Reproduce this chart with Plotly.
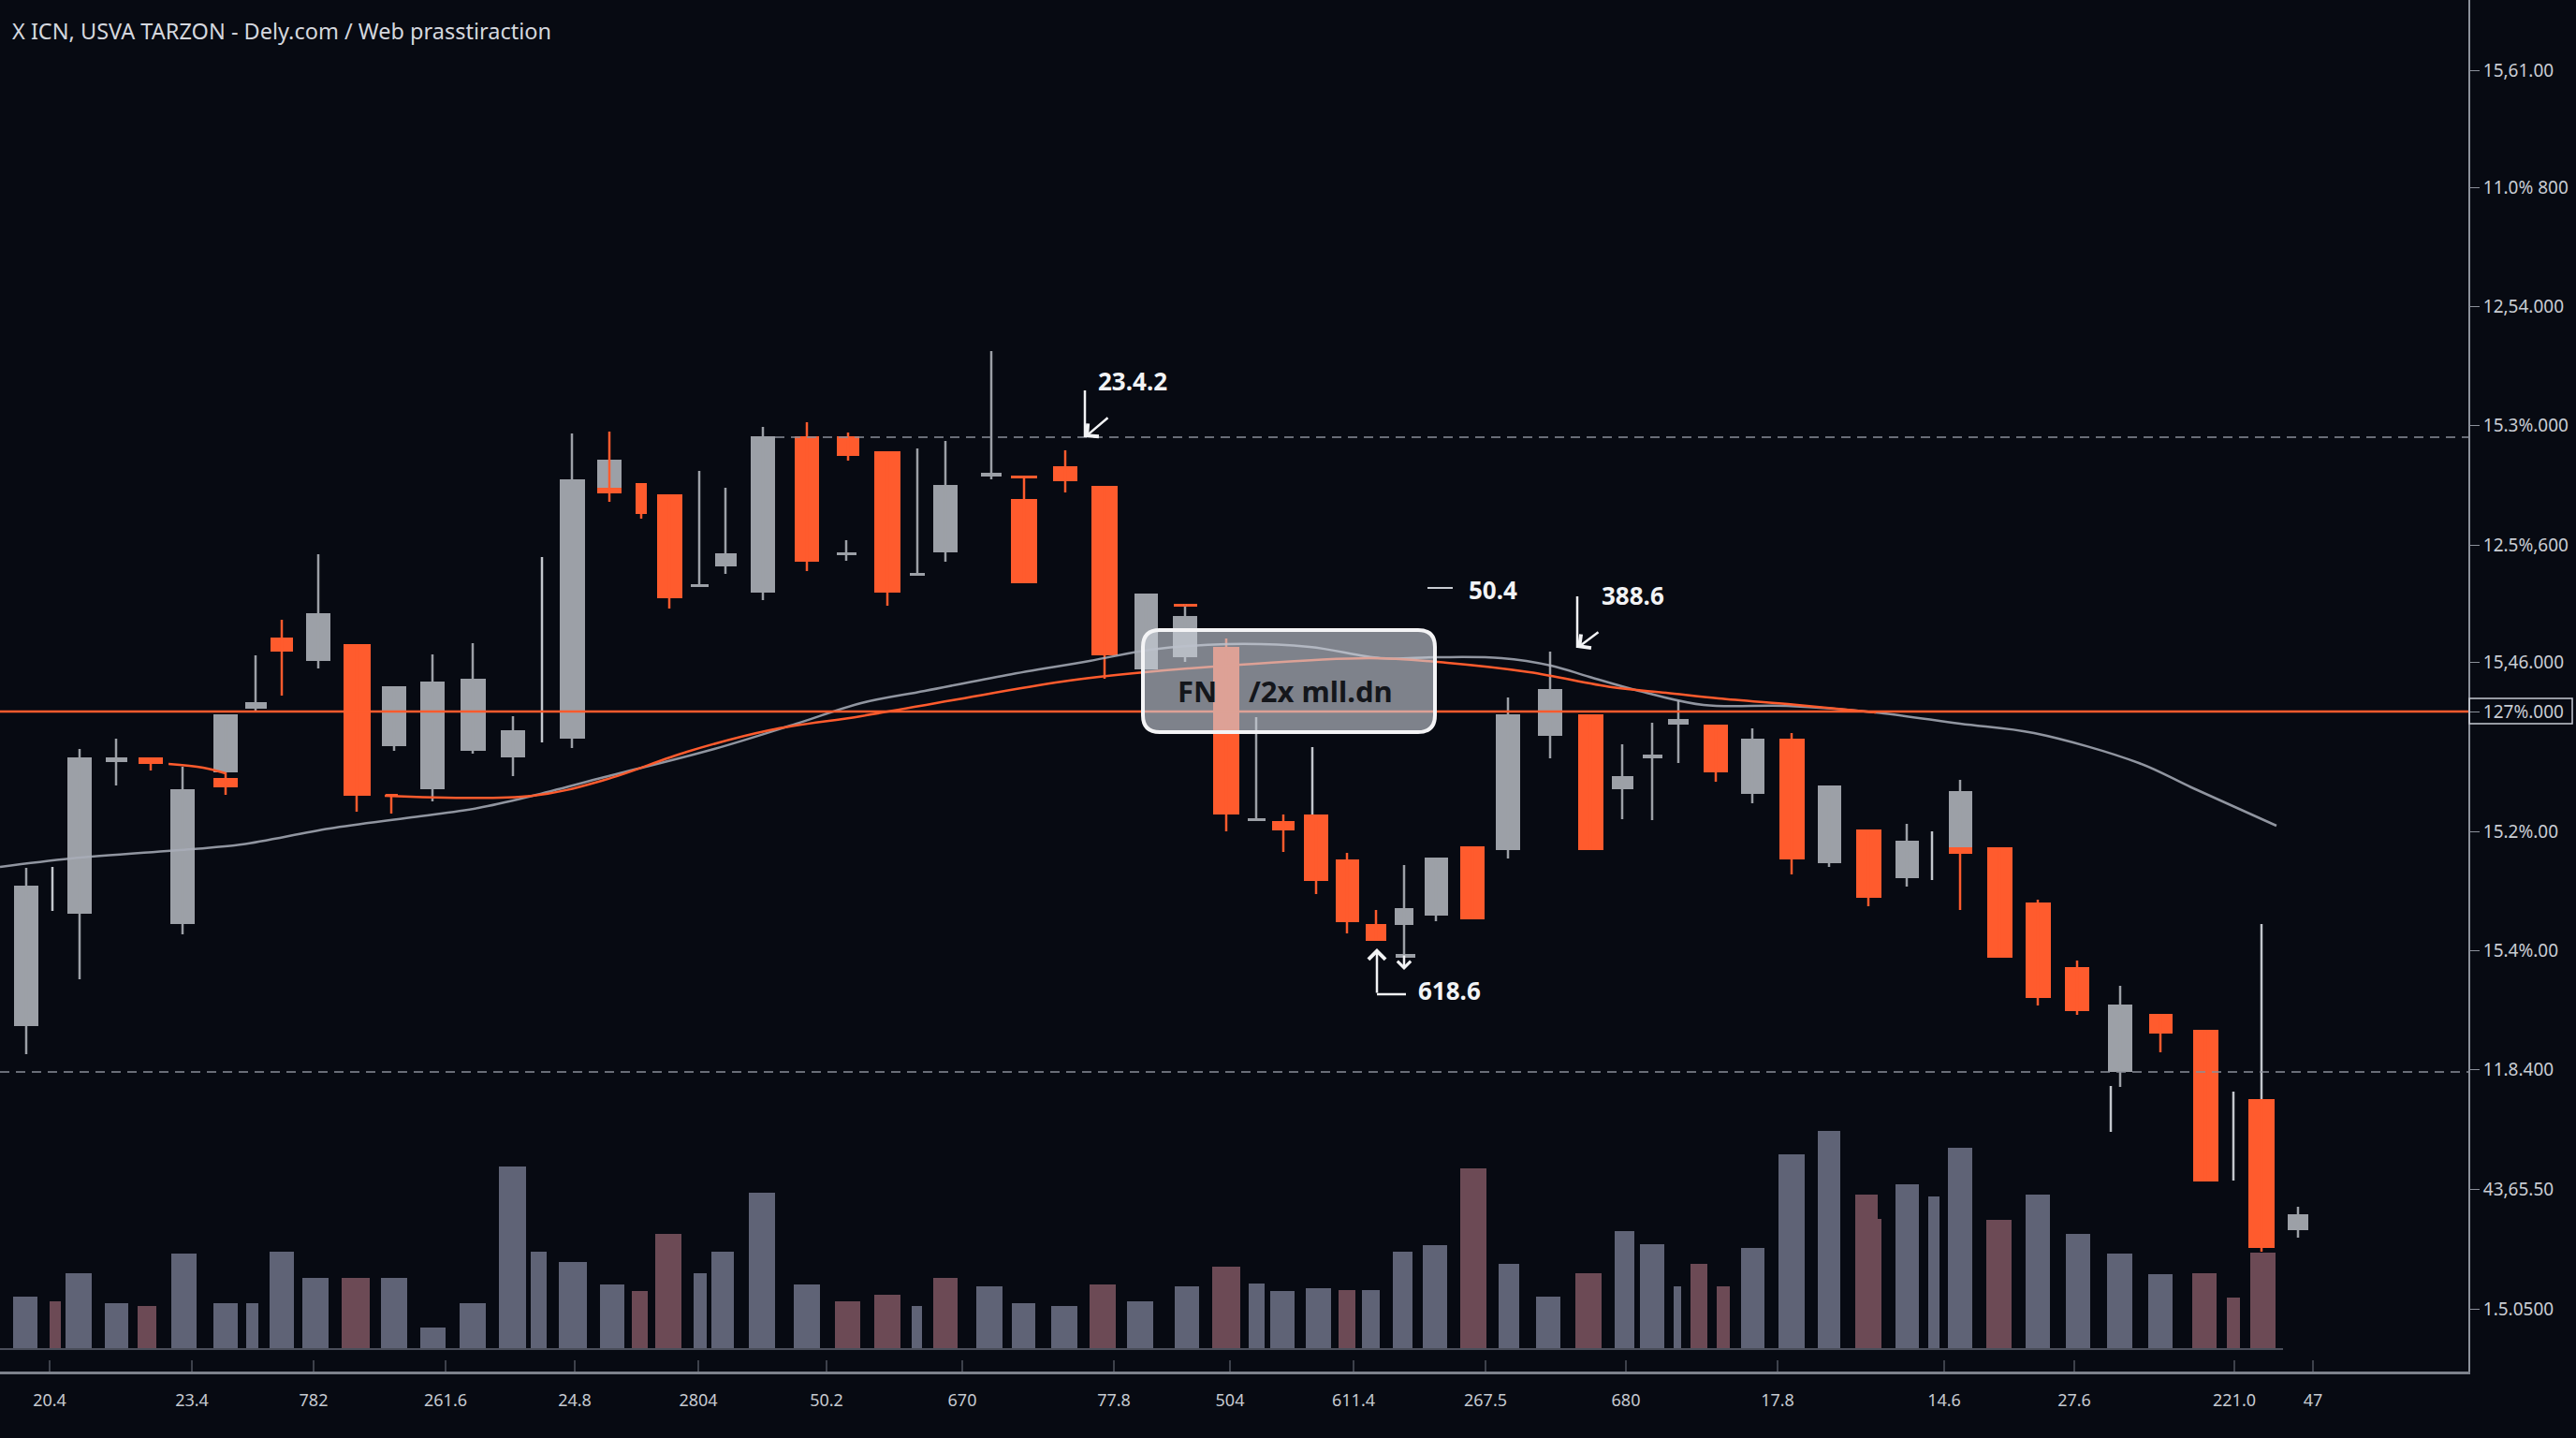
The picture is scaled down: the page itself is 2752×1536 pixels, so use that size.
import plotly.graph_objects as go

# ---------------- data ----------------
# candles: x position, body width, open, high, low, close (price units)
cx = [28, 56, 85, 124, 161, 195, 241, 241, 273, 301, 340, 381, 418, 421, 462, 505, 548, 579, 611, 651, 651,
      685, 715, 747, 775, 815, 862, 904, 906, 948, 980, 1010, 1059, 1094, 1094, 1138, 1180, 1224, 1266, 1266,
      1310, 1342, 1371, 1402, 1406, 1439, 1470, 1500, 1501, 1534, 1573, 1611, 1656, 1699, 1733, 1765, 1793,
      1833, 1872, 1914, 1954, 1996, 2037, 2064, 2094, 2094, 2136, 2177, 2219, 2265, 2255, 2308, 2356, 2386,
      2416, 2416, 2455]
cw = [26, 0, 26, 23, 26, 26, 26, 26, 23, 24, 26, 29, 13, 26, 26, 27, 26, 0, 27, 26, 26,
      12, 27, 19, 23, 26, 26, 21, 24, 28, 16, 26, 22, 28, 28, 26, 28, 25, 25, 26,
      28, 19, 24, 0, 26, 25, 22, 20, 21, 25, 26, 26, 26, 27, 23, 21, 22,
      26, 25, 27, 25, 27, 25, 0, 25, 25, 27, 27, 26, 26, 0, 25, 27, 0,
      0, 28, 22]
c_open = [369, 515, 489, 651, 656, 478, 640, 634, 708, 784, 759, 777, 617, 668, 622, 663, 656, 771, 676, 944, 944,
          949, 937, 838, 860, 832, 999, 872, 999, 983, 850, 875, 956, 957, 932, 967, 946, 750, 820, 763,
          774, 588, 588, 631, 595, 547, 478, 477, 442, 487, 561, 557, 679, 702, 622, 655, 691,
          691, 617, 676, 543, 579, 527, 551, 560, 560, 560, 501, 432, 320, 280, 382, 365, 250,
          385, 291, 151]
c_high = [538, 539, 665, 676, 656, 646, 702, 640, 765, 803, 873, 777, 617, 732, 766, 778, 700, 870, 1002, 974, 1004,
          949, 937, 962, 944, 1009, 1014, 888, 1003, 983, 986, 994, 1090, 957, 957, 984, 946, 831, 820, 820,
          783, 699, 595, 667, 595, 554, 493, 541, 446, 549, 561, 720, 769, 702, 670, 693, 717,
          691, 687, 682, 626, 579, 585, 577, 632, 560, 560, 504, 439, 412, 305, 382, 365, 299,
          478, 291, 176]
c_low = [339, 492, 419, 626, 642, 467, 640, 616, 704, 722, 751, 598, 596, 663, 609, 660, 636, 672, 666, 944, 929,
         911, 815, 838, 852, 824, 855, 866, 973, 818, 850, 865, 953, 954, 842, 939, 740, 750, 817, 758,
         577, 588, 555, 595, 510, 468, 460, 443, 442, 481, 483, 548, 655, 557, 590, 589, 650,
         630, 607, 531, 539, 497, 518, 525, 560, 493, 442, 391, 381, 304, 256, 341, 203, 204,
         291, 128, 143]
c_close = [519, 515, 656, 656, 649, 622, 702, 624, 715, 769, 810, 615, 614, 732, 737, 740, 685, 771, 953, 974, 938,
           916, 826, 841, 874, 999, 865, 875, 978, 832, 853, 947, 960, 954, 842, 951, 765, 831, 817, 807,
           595, 591, 578, 631, 524, 480, 460, 495, 446, 549, 483, 702, 729, 557, 636, 659, 697,
           640, 676, 547, 626, 506, 567, 551, 620, 553, 442, 399, 385, 392, 280, 361, 203, 250,
           385, 132, 168]

# volume bars
vx = [27, 59, 84, 124.5, 157, 196, 241, 269.5, 301, 337, 380, 421, 462.5, 505, 547.5, 575.5, 612, 654, 683, 714,
      748, 772, 814, 862, 905, 948, 979.5, 1010, 1056.5, 1093, 1137, 1178, 1218, 1268, 1310, 1342.5, 1370,
      1408.5, 1439, 1464.5, 1498.5, 1533, 1574, 1612, 1654, 1697, 1735.5, 1765, 1792, 1815, 1841, 1872.5,
      1914, 1954, 1994, 2007.5, 2037, 2066, 2094, 2135, 2177, 2220, 2264.5, 2308, 2354.6, 2386, 2417.5]
vw = [26, 12, 28, 25, 20, 27, 26, 13, 26, 28, 30, 28, 27, 28, 29, 17, 30, 26, 17, 28,
      14, 24.5, 28, 28, 27, 28, 11, 26, 28, 25, 28, 28, 28, 26, 30, 17, 26,
      26.6, 18, 19, 21, 26, 28, 22.5, 26, 28, 21, 26.5, 8, 18, 14, 25.5,
      27.6, 24.5, 24, 4, 25, 12, 25.6, 27, 26, 26.4, 27, 26.5, 26, 14, 27]
volume = [56, 51, 81, 49, 46, 102, 49, 49, 104, 76, 76, 76, 23, 49, 195, 104, 93, 69, 62, 123,
          81, 104, 167, 69, 51, 58, 46, 76, 67, 49, 46, 69, 51, 67, 88, 70, 62,
          65, 63, 63, 104, 111, 193, 91, 56, 81, 126, 112, 67, 91, 67, 108,
          208, 233, 165, 139, 176, 163, 215, 138, 165, 123, 102, 80, 81, 55, 103]
vdir = list("grggrgggggrggggggg" "rrggggrrgrgggrggrgggrgggrggrgggrrggg" "rrgggrggggrrr")

# moving averages
ma_slow_x = [0, 76, 205, 258, 352, 440, 511, 569, 646, 763, 851, 920, 988, 1076, 1164, 1229, 1311, 1399, 1475,
             1534, 1604, 1657, 1698, 1751, 1820, 1909, 2004, 2094, 2173, 2285, 2341, 2432]
ma_slow = [539, 548, 558, 563, 580, 592, 602, 615, 635, 665, 692, 714, 727, 744, 759, 771, 777, 774, 762,
           763, 762, 754, 742, 727, 712, 711, 704, 692, 682, 650, 624, 583]
ma_fast_x = [180, 217, 241, None, 411, 569, 646, 734, 822, 920, 1017, 1135, 1223, 1311, 1463, 1546, 1634, 1722,
             1780, 1836, 1920, 2004]
ma_fast = [649, 645, 639, None, 615, 615, 632, 662, 685, 700, 717, 737, 747, 754, 762, 757, 747, 731,
           725, 719, 712, 704]

# axis labels
x_tick_pos = [53, 205, 335, 476, 614, 746, 883, 1028, 1190, 1314, 1446, 1587, 1737, 1899, 2077, 2216, 2387, 2471]
x_tick_txt = ["20.4", "23.4", "782", "261.6", "24.8", "2804", "50.2", "670", "77.8", "504", "611.4",
              "267.5", "680", "17.8", "14.6", "27.6", "221.0", "47"]
y_tick_pos = [1390, 1265, 1138, 1011, 883, 758, 705, 577, 450, 323, 195, 67]
y_tick_txt = ["15,61.00", "11.0% 800", "12,54.000", "15.3%.000", "12.5%,600", "15,46.000", "127%.000",
              "15.2%.00", "15.4%.00", "11.8.400", "43,65.50", "1.5.0500"]

level_main = 705
level_upper = 998
level_lower = 320

title_text = "X ICN, USVA TARZON - Dely.com / Web prasstiraction"

# ---------------- style ----------------
BG = "#070a12"
UP = "#9ca0a7"
DOWN = "#ff5b2d"
WICK_LIGHT = "#c3c7cd"
VOL_UP = "#5f6376"
VOL_DN = "#6c4a55"
FONT = "Noto Sans"
XMAX = 2637
YMAX = 1465

fig = go.Figure()

# wicks
wick = {"g": ([], []), "r": ([], []), "w": ([], [])}
for x, o, h, l, c in zip(cx, c_open, c_high, c_low, c_close):
    k = "g" if c > o else ("r" if c < o else "w")
    wick[k][0].extend([x, x, None])
    wick[k][1].extend([l, h, None])
for k, col in (("g", UP), ("r", DOWN), ("w", WICK_LIGHT)):
    fig.add_trace(go.Scatter(x=wick[k][0], y=wick[k][1], mode="lines",
                             line=dict(color=col, width=2.5), hoverinfo="skip", showlegend=False))

# bodies
bx, bbase, bh, bw, bc = [], [], [], [], []
for x, w, o, c in zip(cx, cw, c_open, c_close):
    if w == 0 or o == c:
        continue
    bx.append(x)
    bbase.append(min(o, c))
    bh.append(abs(c - o))
    bw.append(w)
    bc.append(UP if c > o else DOWN)
fig.add_trace(go.Bar(x=bx, y=bh, base=bbase, width=bw, marker=dict(color=bc, line=dict(width=0)),
                     hoverinfo="skip", showlegend=False))

# moving averages
fig.add_trace(go.Scatter(x=ma_slow_x, y=ma_slow, mode="lines", line=dict(color="#a9aeb9", width=2.5, shape="spline"),
                         opacity=0.85, hoverinfo="skip", showlegend=False))
fig.add_trace(go.Scatter(x=ma_fast_x, y=ma_fast, mode="lines", line=dict(color=DOWN, width=2.5, shape="spline"),
                         connectgaps=False, hoverinfo="skip", showlegend=False))

# volume
fig.add_trace(go.Bar(x=vx, y=volume, width=vw, yaxis="y2",
                     marker=dict(color=[VOL_UP if d == "g" else VOL_DN for d in vdir], line=dict(width=0)),
                     hoverinfo="skip", showlegend=False))

shapes = []
shapes.append(dict(type="line", xref="paper", yref="y", x0=0, x1=1, y0=level_main, y1=level_main,
                   line=dict(color=DOWN, width=2.5)))
shapes.append(dict(type="line", xref="x", yref="y", x0=828, x1=XMAX, y0=level_upper, y1=level_upper,
                   line=dict(color="#8a8f99", width=1.6, dash="10px,7px")))
shapes.append(dict(type="line", xref="paper", yref="y", x0=0, x1=1, y0=level_lower, y1=level_lower,
                   line=dict(color="#8a8f99", width=1.6, dash="10px,7px")))
shapes.append(dict(type="line", xref="x", yref="y2", x0=0, x1=2439, y0=0, y1=0,
                   line=dict(color="#4a4e5a", width=2)))

# rounded label box
bx0, bx1, by0, by1, r = 1221, 1533, 683, 792, 18
path = (f"M {bx0+r},{by1} L {bx1-r},{by1} Q {bx1},{by1} {bx1},{by1-r} L {bx1},{by0+r} "
        f"Q {bx1},{by0} {bx1-r},{by0} L {bx0+r},{by0} Q {bx0},{by0} {bx0},{by0+r} "
        f"L {bx0},{by1-r} Q {bx0},{by1} {bx0+r},{by1} Z")
shapes.append(dict(type="path", xref="x", yref="y", path=path, fillcolor="rgba(200,205,215,0.62)",
                   line=dict(color="#f4f4f6", width=4)))

# annotation helper lines
WL = dict(color="#f2f3f5", width=2.5)
shapes.append(dict(type="line", xref="x", yref="y", x0=1159, x1=1159, y0=1048, y1=998, line=WL))
shapes.append(dict(type="line", xref="x", yref="y", x0=1685, x1=1685, y0=828, y1=773, line=WL))
shapes.append(dict(type="line", xref="x", yref="y", x0=1471, x1=1502, y0=403, y1=403, line=WL))
shapes.append(dict(type="line", xref="x", yref="y", x0=1525, x1=1552, y0=837, y1=837,
                   line=dict(color="#c8ccd2", width=2)))
# highlighted price tag box
shapes.append(dict(type="rect", xref="paper", yref="y", x0=1.0004, x1=1.0421, y0=692, y1=719,
                   line=dict(color="#c8ccd4", width=1.5), fillcolor="rgba(0,0,0,0)"))

ann = []
ann.append(dict(x=11, y=1432, xref="x", yref="y", text=title_text, showarrow=False, xanchor="left",
                font=dict(family=FONT, size=23.5, color="#d4d7de")))


def label(x, y, t, size=26, color="#f2f3f5"):
    ann.append(dict(x=x, y=y, xref="x", yref="y", text=f"<b>{t}</b>", showarrow=False,
                    font=dict(family=FONT, size=size, color=color)))


def arrow(x, y, axv, ayv, size=1.4):
    ann.append(dict(x=x, y=y, ax=axv, ay=ayv, xref="x", yref="y", axref="x", ayref="y", text="",
                    showarrow=True, arrowhead=4, arrowsize=size, arrowwidth=2.5, arrowcolor="#f2f3f5",
                    standoff=0))


label(1210, 1058, "23.4.2")
arrow(1159, 998, 1185, 1020)
label(1595, 835, "50.4")
label(1744, 829, "388.6")
arrow(1685, 773, 1709, 791)
label(1548, 407, "618.6")
arrow(1471, 452, 1471, 403)
arrow(1500, 429, 1500, 446, size=1.1)
label(1279, 727, "FN", size=31, color="#14161b")
label(1411, 727, "/2x mll.dn", size=31, color="#14161b")

fig.update_layout(
    width=2752, height=1536,
    margin=dict(l=0, r=2752 - XMAX, t=0, b=1536 - YMAX),
    paper_bgcolor=BG, plot_bgcolor=BG,
    barmode="overlay", bargap=0,
    showlegend=False,
    shapes=shapes, annotations=ann,
    xaxis=dict(range=[0, XMAX], showgrid=False, zeroline=False, showline=True, linecolor="#7d828c",
               linewidth=2.5, ticks="inside", ticklen=12, tickcolor="#3d414b", tickwidth=1.5,
               tickvals=x_tick_pos, ticktext=x_tick_txt, ticklabelstandoff=13,
               tickfont=dict(family=FONT, size=18, color="#c5c9d0"), fixedrange=True),
    yaxis=dict(range=[0, YMAX], side="right", showgrid=False, zeroline=False, showline=True,
               linecolor="#8c919b", linewidth=2, ticks="outside", ticklen=10, tickcolor="#8c919b",
               tickvals=y_tick_pos, ticktext=y_tick_txt,
               tickfont=dict(family=FONT, size=19, color="#c9cdd4"), fixedrange=True),
    yaxis2=dict(range=[-24, YMAX - 24], overlaying="y", visible=False, fixedrange=True),
)

fig.write_html("out.html")
